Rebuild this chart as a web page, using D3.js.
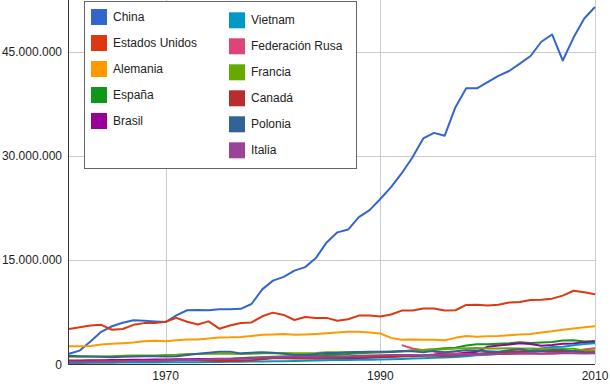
<!DOCTYPE html>
<html>
<head>
<meta charset="utf-8">
<script src="https://cdn.jsdelivr.net/npm/d3@7"></script>
<style>
  html, body { margin: 0; padding: 0; background: #fff; }
  svg { display: block; font-family: "Liberation Sans", Arial, sans-serif; }
</style>
</head>
<body>
<svg id="chart" width="610" height="386"></svg>
<script>
// ---- DATA (values in millions) ----
const years = [1961,1962,1963,1964,1965,1966,1967,1968,1969,1970,
  1971,1972,1973,1974,1975,1976,1977,1978,1979,1980,
  1981,1982,1983,1984,1985,1986,1987,1988,1989,1990,
  1991,1992,1993,1994,1995,1996,1997,1998,1999,2000,
  2001,2002,2003,2004,2005,2006,2007,2008,2009,2010];

const seriesNames = ["China","Estados Unidos","Alemania","España","Brasil",
  "Vietnam","Federación Rusa","Francia","Canadá","Polonia","Italia"];

const seriesColors = ["#3366cc","#dc3912","#ff9900","#109618","#990099",
  "#0099c6","#dd4477","#66aa00","#b82e2e","#316395","#994499"];

const china = [1.54,2.0,3.3,4.7,5.5,6.0,6.35,6.3,6.2,6.1,
  7.05,7.8,7.85,7.8,7.95,7.95,8.0,8.7,10.8,12.06,
  12.6,13.5,14.0,15.3,17.55,19.0,19.4,21.2,22.2,23.8,
  25.5,27.5,29.8,32.5,33.3,32.9,37.0,39.7,39.7,40.6,
  41.5,42.2,43.25,44.35,46.4,47.45,43.7,47.0,49.75,51.4];

const usa = [5.12,5.36,5.6,5.7,5.0,5.1,5.7,5.95,5.95,6.15,
  6.7,6.15,5.75,6.2,5.15,5.6,5.98,6.05,6.93,7.46,
  7.13,6.4,6.84,6.7,6.7,6.3,6.5,7.03,7.03,6.9,
  7.18,7.75,7.75,8.04,8.04,7.75,7.8,8.57,8.6,8.5,
  8.6,8.9,9.0,9.28,9.3,9.47,9.9,10.6,10.4,10.1];

const alemania = [2.63,2.63,2.67,2.87,3.0,3.07,3.16,3.35,3.4,3.35,
  3.5,3.6,3.6,3.73,3.88,3.9,3.97,4.1,4.26,4.33,
  4.4,4.26,4.33,4.4,4.5,4.6,4.7,4.7,4.6,4.45,
  3.83,3.55,3.6,3.55,3.55,3.5,3.83,4.1,4.0,4.05,
  4.1,4.2,4.3,4.4,4.6,4.78,5.0,5.17,5.36,5.5];

const espana = [0.28,0.3,0.33,0.36,0.4,0.45,0.48,0.5,0.52,0.55,
  0.6,0.65,0.7,0.75,0.75,0.8,0.9,1.0,1.05,1.1,
  1.15,1.2,1.25,1.3,1.35,1.4,1.5,1.6,1.7,1.79,
  1.87,1.9,2.0,2.1,2.18,2.35,2.4,2.74,2.9,2.9,
  2.99,3.07,3.19,3.08,3.16,3.23,3.44,3.48,3.29,3.37];

const brasil = [0.56,0.58,0.6,0.62,0.64,0.66,0.68,0.7,0.71,0.72,
  0.74,0.76,0.78,0.8,0.82,0.84,0.86,0.88,0.92,0.98,
  0.96,0.94,0.92,0.88,0.86,0.84,0.86,0.92,0.98,1.05,
  1.1,1.2,1.25,1.3,1.43,1.6,1.54,1.69,1.83,2.56,
  2.73,2.87,3.06,2.95,2.71,2.8,2.99,3.02,3.19,3.24];

const vietnam = [0.2,0.22,0.24,0.25,0.26,0.27,0.28,0.29,0.3,0.31,
  0.32,0.33,0.34,0.35,0.36,0.38,0.4,0.42,0.44,0.45,
  0.47,0.5,0.53,0.56,0.6,0.63,0.66,0.68,0.7,0.73,
  0.74,0.78,0.85,0.9,0.96,1.01,1.08,1.2,1.32,1.41,
  1.51,1.65,1.8,2.0,2.29,2.5,2.55,2.78,2.93,3.04];

const rusia = [null,null,null,null,null,null,null,null,null,null,
  null,null,null,null,null,null,null,null,null,null,
  null,null,null,null,null,null,null,null,null,null,
  null,2.78,2.3,2.05,1.85,1.7,1.55,1.5,1.49,1.57,
  1.5,1.6,1.7,1.68,1.57,1.7,1.85,1.93,2.17,2.33];

const francia = [1.1,1.1,1.15,1.15,1.2,1.25,1.3,1.3,1.3,1.35,
  1.4,1.5,1.5,1.55,1.55,1.55,1.5,1.55,1.6,1.6,
  1.65,1.6,1.6,1.65,1.75,1.75,1.75,1.75,1.75,1.73,
  1.8,1.9,2.0,2.1,2.14,2.2,2.3,2.35,2.38,2.31,
  2.3,2.35,2.3,2.3,2.27,2.26,2.28,2.27,2.0,2.0];

const canada = [0.45,0.45,0.48,0.5,0.48,0.47,0.52,0.55,0.52,0.6,
  0.7,0.62,0.6,0.58,0.5,0.5,0.55,0.6,0.75,0.9,
  0.9,0.85,0.87,0.9,0.92,0.95,1.0,1.05,1.08,1.12,
  1.12,1.2,1.2,1.25,1.27,1.23,1.25,1.4,1.56,1.64,
  1.73,1.85,1.88,1.93,1.96,1.9,1.85,1.9,1.79,1.77];

const polonia = [1.25,1.2,1.15,1.1,1.05,1.1,1.15,1.2,1.2,1.15,
  1.2,1.35,1.55,1.7,1.85,1.85,1.6,1.7,1.75,1.7,
  1.55,1.35,1.35,1.5,1.65,1.65,1.75,1.8,1.85,1.85,
  1.8,1.95,1.9,1.75,1.96,1.75,1.9,2.05,2.0,1.92,
  1.85,2.05,2.2,1.95,1.93,2.07,2.1,1.89,1.7,1.74];

const italia = [0.35,0.37,0.38,0.4,0.43,0.45,0.5,0.53,0.55,0.58,
  0.6,0.63,0.7,0.75,0.78,0.8,0.85,0.9,1.0,1.05,
  1.1,1.12,1.12,1.15,1.15,1.14,1.2,1.25,1.28,1.33,
  1.35,1.37,1.35,1.33,1.35,1.4,1.41,1.44,1.47,1.49,
  1.51,1.52,1.56,1.59,1.56,1.56,1.6,1.61,1.59,1.63];

const seriesValues = [china, usa, alemania, espana, brasil, vietnam, rusia,
  francia, canada, polonia, italia];

const yTickValues = [0, 15, 30, 45];
const xTickValues = [1970, 1990, 2010];

// ---- CHART ----
const svg = d3.select("#chart");
const x = d3.scaleLinear().domain([1961, 2010]).range([69, 595]);
const y = d3.scaleLinear().domain([0, 45]).range([364.5, 51.5]);

const fmt = v => d3.formatLocale({decimal: ",", thousands: ".", grouping: [3], currency: ["", ""]})
  .format(",.0f")(v * 1e6);

// gridlines
const grid = svg.append("g");
grid.selectAll("line.h").data(yTickValues.filter(d => d > 0)).join("line")
  .attr("x1", 68.5).attr("x2", 595)
  .attr("y1", d => Math.round(y(d)) + 0.5).attr("y2", d => Math.round(y(d)) + 0.5)
  .attr("stroke", "#cccccc").attr("stroke-width", 1);
grid.selectAll("line.v").data(xTickValues).join("line")
  .attr("x1", d => Math.round(x(d)) + 0.5).attr("x2", d => Math.round(x(d)) + 0.5)
  .attr("y1", 0).attr("y2", 364)
  .attr("stroke", "#cccccc").attr("stroke-width", 1);

// lines
const line = d3.line()
  .defined(d => d[1] != null)
  .x(d => x(d[0])).y(d => y(d[1]));

const linesG = svg.append("g");
seriesValues.forEach((vals, i) => {
  linesG.append("path")
    .datum(years.map((yr, j) => [yr, vals[j]]))
    .attr("fill", "none")
    .attr("stroke", seriesColors[i])
    .attr("stroke-width", 2)
    .attr("stroke-linejoin", "round")
    .attr("d", line);
});

// axes lines
svg.append("line").attr("x1", 68.5).attr("x2", 68.5).attr("y1", 0).attr("y2", 365)
  .attr("stroke", "#333").attr("stroke-width", 1);
svg.append("line").attr("x1", 68).attr("x2", 595).attr("y1", 364.5).attr("y2", 364.5)
  .attr("stroke", "#333").attr("stroke-width", 1);

// y labels
svg.append("g").selectAll("text").data(yTickValues).join("text")
  .attr("x", 62).attr("y", d => y(d) + 4)
  .attr("text-anchor", "end")
  .attr("font-size", 12).attr("fill", "#222")
  .text(d => fmt(d));

// x labels
svg.append("g").selectAll("text").data(xTickValues).join("text")
  .attr("x", d => x(d)).attr("y", 380)
  .attr("text-anchor", "middle")
  .attr("font-size", 12).attr("fill", "#222")
  .text(d => d);

// legend
const lg = svg.append("g");
lg.append("rect").attr("x", 84.5).attr("y", 1.5).attr("width", 272).attr("height", 167)
  .attr("fill", "#fff").attr("stroke", "#666").attr("stroke-width", 1);
seriesNames.forEach((name, i) => {
  const col = i < 5 ? 0 : 1;
  const row = i < 5 ? i : i - 5;
  const sx = col === 0 ? 91 : 229;
  const sy = (col === 0 ? 9 : 12.3) + row * 26;
  lg.append("rect").attr("x", sx).attr("y", sy).attr("width", 16).attr("height", 16)
    .attr("fill", seriesColors[i]);
  lg.append("text").attr("x", sx + 22).attr("y", sy + 12)
    .attr("font-size", 12).attr("fill", "#222")
    .text(name);
});
</script>
</body>
</html>
